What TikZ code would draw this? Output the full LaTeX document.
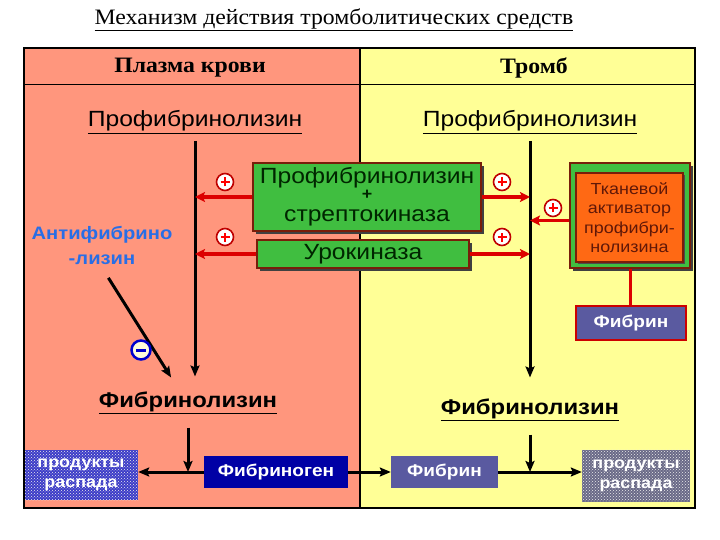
\documentclass[tikz,border=0pt]{standalone}
\usepackage{fontspec}
\setmainfont[FakeStretch=1.08]{Liberation Serif}
\setsansfont[FakeStretch=1.12]{Liberation Sans}
\usetikzlibrary{arrows.meta,shadows,patterns}

\definecolor{plasma}{RGB}{255,150,125}
\definecolor{thrombus}{RGB}{255,255,150}
\definecolor{enzgreen}{RGB}{64,190,64}
\definecolor{enzedge}{RGB}{120,30,10}
\definecolor{actorange}{RGB}{255,105,20}
\definecolor{fibslate}{RGB}{90,90,160}
\definecolor{fibblue}{RGB}{0,0,165}
\definecolor{prodblue}{RGB}{60,60,200}
\definecolor{prodgray}{RGB}{105,105,135}
\definecolor{inhibblue}{RGB}{40,110,230}
\definecolor{actred}{RGB}{220,0,0}

\tikzset{
  header/.style={font=\rmfamily\bfseries\fontsize{22}{24}\selectfont},
  plaintext/.style={font=\sffamily\fontsize{22}{24}\selectfont},
  boldtext/.style={font=\sffamily\bfseries\fontsize{21.3}{24}\selectfont},
  enzyme/.style={draw=enzedge, line width=1.6pt, fill=enzgreen, text=black!85!green,
    font=\sffamily\fontsize{22}{21}\selectfont, align=center, inner sep=0pt,
    general shadow={fill=black!75, shadow xshift=3pt, shadow yshift=-3pt}},
  activator/.style={draw=enzedge, line width=1.2pt, fill=actorange, text=enzedge!80!black,
    font=\sffamily\fontsize{16}{19.5}\selectfont, align=center, inner sep=0pt,
    general shadow={fill=black!70, shadow xshift=2pt, shadow yshift=-2pt}},
  fibbox/.style={fill=fibslate, text=white, font=\sffamily\bfseries\fontsize{17}{20}\selectfont, inner sep=0pt},
  prodbox/.style={text=white, font=\sffamily\bfseries\fontsize{16}{20}\selectfont, align=center, inner sep=0pt,
    postaction={pattern=crosshatch dots, pattern color=white!85!gray}},
  plusmark/.style={circle, draw=red!75!black, fill=white, line width=1.6pt, minimum size=17pt, inner sep=0pt,
    path picture={\draw[red, line width=2pt]
      ([xshift=-4.5pt]path picture bounding box.center) -- ([xshift=4.5pt]path picture bounding box.center)
      ([yshift=-4.5pt]path picture bounding box.center) -- ([yshift=4.5pt]path picture bounding box.center);}},
  minusmark/.style={circle, draw=blue!80!black, fill=yellow!15, line width=2.5pt, minimum size=19pt, inner sep=0pt,
    path picture={\draw[blue!80!black, line width=3pt]
      ([xshift=-5pt]path picture bounding box.center) -- ([xshift=5pt]path picture bounding box.center);}},
  flow/.style={line width=3pt, -{Stealth[length=11pt,width=9pt,inset=2pt]}},
  redflow/.style={draw=actred, line width=3.5pt, -{Stealth[length=10pt,width=10pt,inset=2pt]}}
}

\begin{document}
\begin{tikzpicture}[x=1pt,y=-1pt]
    \useasboundingbox (0,0) rectangle (720,540);
    \node[font=\fontsize{22}{24}\selectfont] (title) at (334,20) {\underline{Механизм действия тромболитических средств}};

    \fill[plasma] (24,48) rectangle (360,508);
    \fill[thrombus] (360,48) rectangle (695,508);
    \draw[line width=1pt] (24,85) -- (695,85);
    \draw[line width=1.2pt] (360,48) -- (360,508);

    \node[header] (plasma) at (190,68) {Плазма крови};
    \node[header] (clot) at (534,68) {Тромб};
    \node[plaintext] (profL) at (195,122) {\underline{Профибринолизин}};
    \node[plaintext] (profR) at (530,122) {\underline{Профибринолизин}};

    \node[boldtext] (fibL) at (188,403) {\underline{Фибринолизин}};
    \node[boldtext] (fibR) at (530,410) {\underline{Фибринолизин}};
    \draw[flow, shorten <=4pt, shorten >=12pt] (profL.south) -- (profL.south |- fibL.north);
    \draw[flow, shorten <=4pt, shorten >=18pt] (profR.south) -- (profR.south |- fibR.north);

    \node[enzyme, minimum width=228pt, minimum height=68pt] (strep) at (367,197) {Профибринолизин\\[-5pt]{\bfseries\fontsize{16}{16}\selectfont +}\\[1pt]стрептокиназа};
    \node[enzyme, minimum width=212pt, minimum height=28pt] (uro) at (363,254) {Урокиназа};

    \node[enzyme, minimum width=120pt, minimum height=105pt] (actbg) at (630,215.5) {};
    \node[activator, minimum width=107pt, minimum height=89pt] (act) at (629.5,217.5) {Тканевой\\активатор\\профибри-\\нолизина};

    \draw[redflow] (strep.west) -- (strep.west -| profL.south);
    \draw[redflow] (uro.west) -- (uro.west -| profL.south);
    \draw[redflow] (strep.east) -- (strep.east -| profR.south);
    \draw[redflow] (uro.east) -- (uro.east -| profR.south);
    \draw[redflow] ([yshift=-5pt]actbg.west) -- ([yshift=-5pt]actbg.west -| profR.south);

    \node[plusmark] (p1) at (225,182) {};
    \node[plusmark] (p2) at (225,237) {};
    \node[plusmark] (p3) at (502,182) {};
    \node[plusmark] (p4) at (502,237) {};
    \node[plusmark] (p5) at (553,208) {};

    \node[fibbox, minimum width=110pt, minimum height=34pt, draw=red!80!black, line width=1.5pt] (fibrinT) at (631,323) {Фибрин};
    \draw[actred, line width=3pt] (actbg.south) -- (actbg.south |- fibrinT.north);

    \node[font=\sffamily\bfseries\fontsize{18}{25}\selectfont, text=inhibblue, align=center] (antif) at (102,245) {Антифибрино\\-лизин};
    \draw[flow, shorten <=12pt, shorten >=13pt] (antif.south) -- ([xshift=-10pt]fibL.north);
    \node[minusmark] (m1) at (141,350) {};

    \node[prodbox, fill=prodblue, minimum width=114pt, minimum height=50pt] (prodL) at (81,475) {продукты\\распада};
    \node[fibbox, fill=fibblue, minimum width=144pt, minimum height=32pt] (fibgen) at (276,472) {Фибриноген};
    \node[fibbox, minimum width=107pt, minimum height=32pt] (fibrinB) at (444.5,472) {Фибрин};
    \node[prodbox, fill=prodgray, minimum width=108pt, minimum height=52pt] (prodR) at (636,475.5) {продукты\\распада};

    \draw[flow] (fibgen.west) -- (fibgen.west -| prodL.east);
    \draw[flow] (fibgen.east) -- (fibrinB.west);
    \draw[flow] (fibrinB.east) -- (fibrinB.east -| prodR.west);
    \draw[flow, shorten <=10pt] (fibL.south) -- (fibL.south |- fibgen.west);
    \draw[flow, shorten <=10pt] (fibR.south) -- (fibR.south |- fibrinB.east);

    \draw[line width=2.2pt] (24,48) rectangle (695,508);
\end{tikzpicture}
\end{document}
